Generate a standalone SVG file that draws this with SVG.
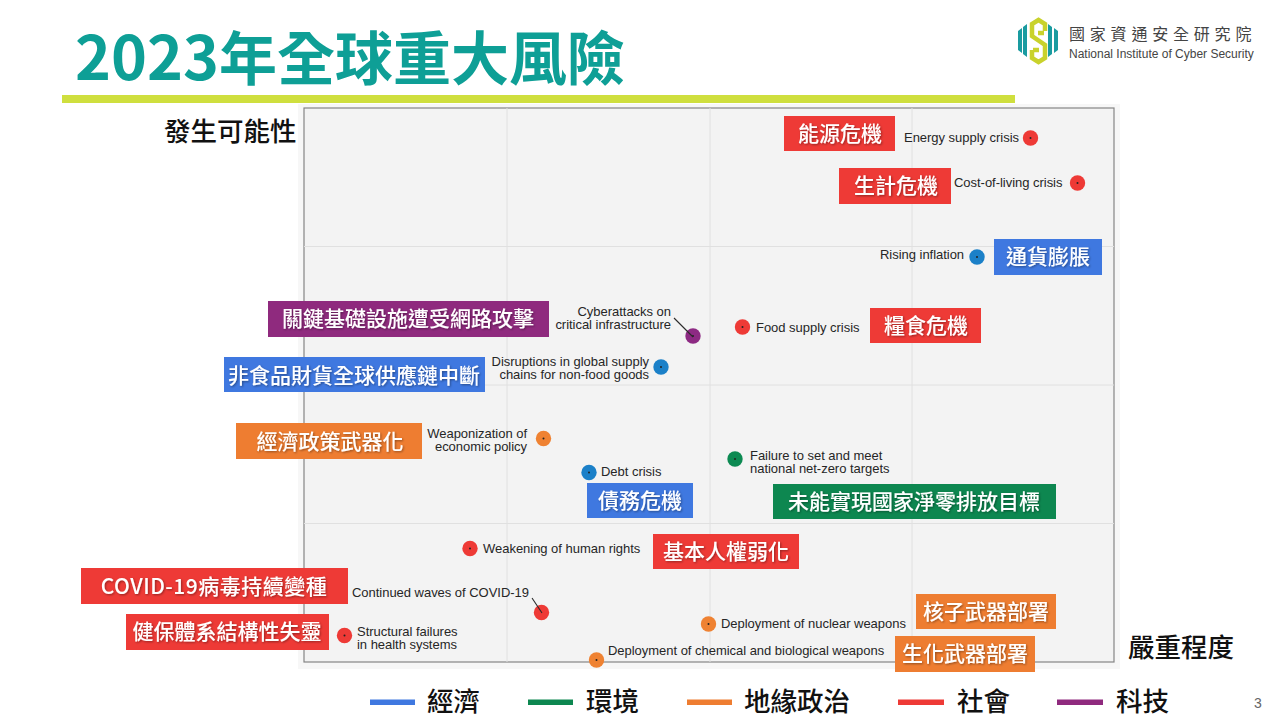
<svg xmlns="http://www.w3.org/2000/svg" width="1280" height="720" viewBox="0 0 1280 720">
<style>
text{font-family:"Noto Sans CJK TC","Liberation Sans",sans-serif}
.en{font-family:"Liberation Sans",Arial,sans-serif;font-size:13px;fill:#262626;letter-spacing:-.03px}
.tag{font-size:21px;font-weight:500;fill:#fff;text-anchor:middle;filter:url(#sh)}
.axis{font-size:26.500px;font-weight:500;fill:#111}
.leg{font-size:26.500px;font-weight:500;fill:#111}
.grid{stroke:#e0e0e0;stroke-width:1;fill:none}
.pin{fill:#222}
.red{fill:#ee3a36}.blue{fill:#1b80c8}.org{fill:#ef8232}.grn{fill:#0c8a52}.pur{fill:#8d2a83}
.bred{fill:#ee3a36}.bblue{fill:#3f78e0}.borg{fill:#ee7d31}.bgrn{fill:#0d8750}.bpur{fill:#8f2a7e}
</style>
<defs>
<filter id="sh" x="-10%" y="-20%" width="120%" height="150%"><feDropShadow dx="1" dy="1" stdDeviation=".8" flood-color="#000" flood-opacity=".4"/></filter>
</defs>
<rect width="1280" height="720" fill="#fff"/>
<text x="75" y="80" style="font-size:58px;font-weight:700;fill:#0e9f96"><tspan font-size="61">2023</tspan>年全球重大風險</text>
<rect x="62" y="95" width="953" height="8" fill="#cfdf3e"/>
<g id="logo">
<g fill="none" stroke="#c9d22c" stroke-width="4.500">
<path d="M1045 31V24L1038.500 20L1032 24V36L1045 45V58L1038.500 62L1032 58V50"/>
<path d="M1038 33H1044M1033 50H1039"/>
</g>
<path d="M1018 31l4-3v25l-4-3zM1023 27l4-3v33l-4-3zM1048 24l4 3v27l-4 3zM1054 28l4 3v19l-4 3z" fill="#1a9ba0"/>
<text x="1069" y="40" style="font-size:16px;fill:#444;letter-spacing:4.800px">國家資通安全研究院</text>
<text x="1069" y="58" style="font-family:'Liberation Sans',sans-serif;font-size:12px;fill:#444">National Institute of Cyber Security</text>
</g>
<g id="chart">
<rect x="298" y="104" width="822" height="565" fill="#f7f7f7"/>
<rect x="304" y="108" width="810" height="554" fill="#f3f3f3" stroke="#858585" stroke-width="1.200"/>
<path class="grid" d="M507 108V662M710 108V662M912 108V662M304 246.500H1114M304 385H1114M304 523.500H1114"/>
</g>
<text class="axis" x="164" y="141">發生可能性</text>
<text class="axis" x="1128" y="657">嚴重程度</text>
<g id="n-energy"><rect class="bred" x="784" y="116" width="111" height="35"/><text class="tag" x="840" y="140.500">能源危機</text><text class="en" x="904" y="142">Energy supply crisis</text><circle class="red" cx="1030.500" cy="138" r="7.700"/><circle class="pin" cx="1030.500" cy="138" r="1"/></g>
<g id="n-living"><rect class="bred" x="839" y="168" width="112" height="36"/><text class="tag" x="896" y="193">生計危機</text><text class="en" x="954" y="187">Cost-of-living crisis</text><circle class="red" cx="1077.500" cy="183" r="7.700"/><circle class="pin" cx="1077.500" cy="183" r="1"/></g>
<g id="n-inflation"><rect class="bblue" x="994" y="239" width="108" height="36"/><text class="tag" x="1048" y="264">通貨膨脹</text><text class="en" x="880" y="259">Rising inflation</text><circle class="blue" cx="977" cy="257" r="7.700"/><circle class="pin" cx="977" cy="257" r="1"/></g>
<g id="n-food"><rect class="bred" x="870" y="308" width="111" height="35"/><text class="tag" x="926" y="333">糧食危機</text><text class="en" x="756" y="332">Food supply crisis</text><circle class="red" cx="742.500" cy="327" r="7.700"/><circle class="pin" cx="742.500" cy="327" r="1"/></g>
<g id="n-cyber"><rect class="bpur" x="268" y="301" width="281" height="36"/><text class="tag" x="408" y="326">關鍵基礎設施遭受網路攻擊</text><text class="en" x="671" y="316" text-anchor="end">Cyberattacks on</text><text class="en" x="671" y="329" text-anchor="end">critical infrastructure</text><circle class="pur" cx="693" cy="336" r="7.700"/><circle class="pin" cx="693" cy="336" r="1"/></g>
<g id="n-supply"><rect class="bblue" x="224" y="357" width="261" height="35"/><text class="tag" x="354" y="383">非食品財貨全球供應鏈中斷</text><text class="en" x="649" y="366" text-anchor="end">Disruptions in global supply</text><text class="en" x="649" y="379" text-anchor="end">chains for non-food goods</text><circle class="blue" cx="661" cy="367" r="7.700"/><circle class="pin" cx="661" cy="367" r="1"/></g>
<g id="n-weapon"><rect class="borg" x="236" y="423" width="186" height="36"/><text class="tag" x="330" y="449">經濟政策武器化</text><text class="en" x="527" y="438" text-anchor="end">Weaponization of</text><text class="en" x="527" y="451" text-anchor="end">economic policy</text><circle class="org" cx="543.500" cy="438.500" r="7.700"/><circle class="pin" cx="543.500" cy="438.500" r="1"/></g>
<g id="n-debt"><rect class="bblue" x="587" y="483" width="106" height="35"/><text class="tag" x="640" y="508">債務危機</text><text class="en" x="601" y="476">Debt crisis</text><circle class="blue" cx="589" cy="472.500" r="7.700"/><circle class="pin" cx="589" cy="472.500" r="1"/></g>
<g id="n-netzero"><rect class="bgrn" x="773" y="484" width="283" height="35"/><text class="tag" x="914" y="509">未能實現國家淨零排放目標</text><text class="en" x="750" y="460">Failure to set and meet</text><text class="en" x="750" y="473">national net-zero targets</text><circle class="grn" cx="735" cy="459" r="7.700"/><circle class="pin" cx="735" cy="459" r="1"/></g>
<g id="n-rights"><rect class="bred" x="653" y="534" width="146" height="35"/><text class="tag" x="726" y="559">基本人權弱化</text><text class="en" x="483" y="553">Weakening of human rights</text><circle class="red" cx="470" cy="548.500" r="7.700"/><circle class="pin" cx="470" cy="548.500" r="1"/></g>
<g id="n-covid"><rect class="bred" x="81" y="568" width="267" height="36"/><text class="tag" x="214" y="594" style="letter-spacing:.5px">COVID-19病毒持續變種</text><text class="en" x="352" y="597">Continued waves of COVID-19</text><circle class="red" cx="541.500" cy="612.500" r="7.700"/></g>
<g id="n-health"><rect class="bred" x="126" y="614" width="203" height="36"/><text class="tag" x="227" y="638.500">健保體系結構性失靈</text><text class="en" x="357" y="636">Structural failures</text><text class="en" x="357" y="649">in health systems</text><circle class="red" cx="344.500" cy="635.500" r="7.700"/><circle class="pin" cx="344.500" cy="635.500" r="1"/></g>
<g id="n-nuclear"><rect class="borg" x="916" y="594" width="140" height="35"/><text class="tag" x="986" y="619">核子武器部署</text><text class="en" x="721" y="628">Deployment of nuclear weapons</text><circle class="org" cx="708.500" cy="624" r="7.700"/><circle class="pin" cx="708.500" cy="624" r="1"/></g>
<g id="n-bio"><rect class="borg" x="895" y="636" width="140" height="36"/><text class="tag" x="965" y="661">生化武器部署</text><text class="en" x="608" y="655">Deployment of chemical and biological weapons</text><circle class="org" cx="596.500" cy="660" r="7.700"/><circle class="pin" cx="596.500" cy="660" r="1"/></g>
<g id="connectors" stroke="#2a2a2a" stroke-width="1.100" fill="none">
<path d="M674 318L693 337"/>
<path d="M532 598L542 613"/>
</g>
<g id="legend">
<rect class="bblue" x="370" y="699.500" width="45" height="5.500"/><text class="leg" x="427" y="711">經濟</text>
<rect class="bgrn" x="528" y="699.500" width="45" height="5.500"/><text class="leg" x="586" y="711">環境</text>
<rect class="borg" x="687" y="699.500" width="45" height="5.500"/><text class="leg" x="744" y="711">地緣政治</text>
<rect class="bred" x="898" y="699.500" width="46" height="5.500"/><text class="leg" x="957" y="711">社會</text>
<rect class="bpur" x="1057" y="699.500" width="46" height="5.500"/><text class="leg" x="1116" y="711">科技</text>
</g>
<text x="1254" y="708" style="font-family:'Liberation Sans',sans-serif;font-size:14px;fill:#666">3</text>
</svg>
